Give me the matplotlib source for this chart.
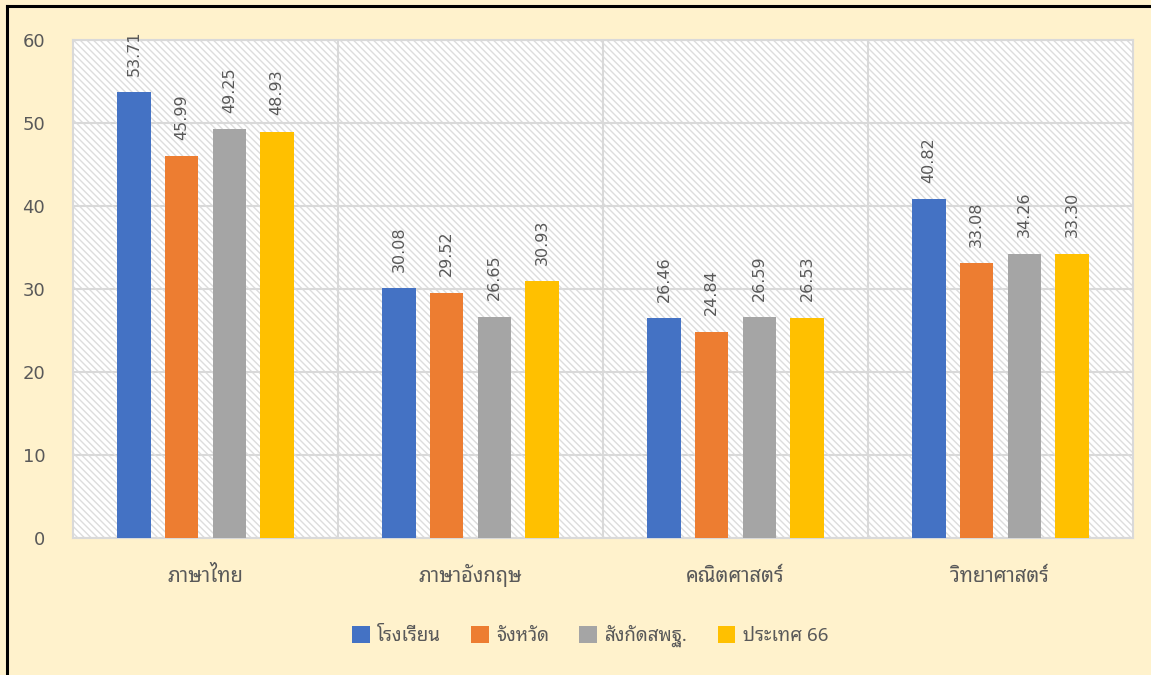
import matplotlib
matplotlib.use("Agg")
import matplotlib.pyplot as plt
from matplotlib.lines import Line2D
import numpy as np

plt.rcParams['font.family'] = ['Noto Sans Thai Looped', 'Noto Sans Thai', 'DejaVu Sans']
plt.rcParams['hatch.linewidth'] = 1.0

subjects = ['ภาษาไทย', 'ภาษาอังกฤษ', 'คณิตศาสตร์', 'วิทยาศาสตร์']
series = ['โรงเรียน', 'จังหวัด', 'สังกัดสพฐ.', 'ประเทศ 66']
school = [53.71, 30.08, 26.46, 40.82]
province = [45.99, 29.52, 24.84, 33.08]
obec = [49.25, 26.65, 26.59, 34.26]
country = [48.93, 30.93, 26.53, 34.20]
labels = [
    ['53.71', '30.08', '26.46', '40.82'],
    ['45.99', '29.52', '24.84', '33.08'],
    ['49.25', '26.65', '26.59', '34.26'],
    ['48.93', '30.93', '26.53', '33.30'],
]
colors = ['#4472C4', '#ED7D31', '#A5A5A5', '#FFC000']

fig = plt.figure(figsize=(11.51, 6.75), dpi=100)
fig.patch.set_facecolor('#FFF2CC')
ax = fig.add_axes([73/1151, 1-538/675, (1133-73)/1151, (538-40)/675])

ax.patch.set_facecolor('white')
ax.patch.set_edgecolor('#DDDDDD')
ax.patch.set_hatch('\\\\\\\\\\')

x = np.arange(len(subjects))
offsets = [-0.27, -0.09, 0.09, 0.27]
width = 0.125
txt = '#595959'
for i, vals in enumerate([school, province, obec, country]):
    ax.bar(x + offsets[i], vals, width, color=colors[i], label=series[i], zorder=3)
    for j, v in enumerate(vals):
        ax.annotate(labels[i][j], (x[j] + offsets[i], v), xytext=(0, 12),
                    textcoords='offset points', rotation=90, ha='center',
                    va='bottom', fontsize=11.5, color=txt,
                    family='DejaVu Sans')

ax.set_xlim(-0.5, 3.5)
ax.set_ylim(0, 60)
ax.set_yticks(range(0, 61, 10))
ax.set_xticks([0.5, 1.5, 2.5], minor=True)
ax.set_xticks(x)
ax.set_xticklabels(subjects, fontsize=14.5, color=txt, va='baseline')
ax.grid(axis='y', which='major', color='#D9D9D9', lw=1.5, zorder=1)
ax.grid(axis='x', which='minor', color='#D9D9D9', lw=1.5, zorder=1)
ax.set_axisbelow(True)
ax.tick_params(axis='both', which='both', length=0)
ax.tick_params(axis='x', pad=32)
ax.tick_params(axis='y', pad=20, labelsize=13, labelcolor=txt)
for lab in ax.get_yticklabels():
    lab.set_family('DejaVu Sans')
for s in ax.spines.values():
    s.set_color('#D9D9D9')
    s.set_linewidth(1.5)

fig.legend(loc='center', bbox_to_anchor=(590/1151, 1-636/675), ncol=4,
           frameon=False, fontsize=13.5, handlelength=0.95, handleheight=0.95,
           columnspacing=1.6, handletextpad=0.4, labelcolor=txt)

# black frame: only top and left edges are visible in the reference
fig.add_artist(Line2D([7/1151, 1], [1-6/675, 1-6/675], transform=fig.transFigure,
                      color='black', lw=2.2))
fig.add_artist(Line2D([7/1151, 7/1151], [0, 1-6/675], transform=fig.transFigure,
                      color='black', lw=2.2))

fig.savefig('out.png', dpi=100, facecolor=fig.get_facecolor())
